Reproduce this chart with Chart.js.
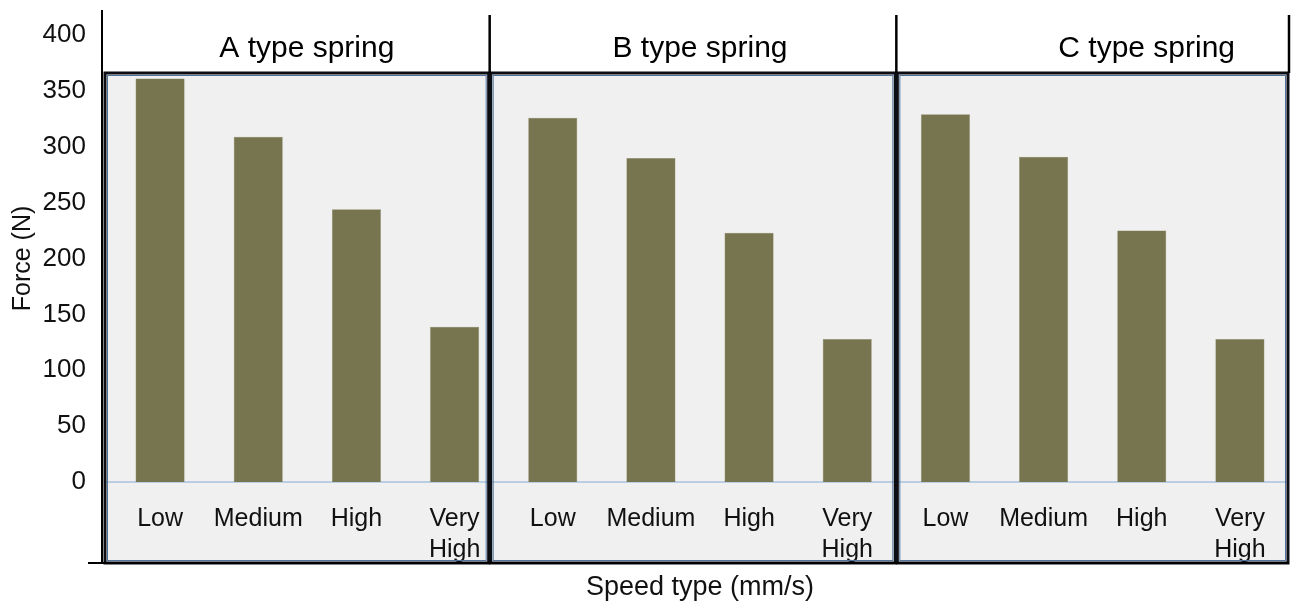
<!DOCTYPE html>
<html>
<head>
<meta charset="utf-8">
<title>Force by speed type</title>
<script src="https://cdn.jsdelivr.net/npm/chart.js@4.4.1/dist/chart.umd.min.js"></script>
<style>
  html, body { margin: 0; padding: 0; background: #fff; }
  #wrap { width: 1294px; height: 604px; position: relative; }
</style>
</head>
<body>
<div id="wrap"><canvas id="springChart"></canvas></div>
<script>
// Chart data
const springTypes = ["A type spring", "B type spring", "C type spring"];
const speedLevels = ["Low", "Medium", "High", ["Very", "High"]];
const forceA = [361, 309, 244, 139];
const forceB = [326, 290, 223, 128];
const forceC = [329, 291, 225, 128];
const yTicks = [0, 50, 100, 150, 200, 250, 300, 350, 400];

// one category per bar, grouped by spring type
const labels = [];
springTypes.forEach(function () {
  speedLevels.forEach(function (s) { labels.push(s); });
});
const values = forceA.concat(forceB, forceC);

const FONT = "'Liberation Sans', Arial, Helvetica, sans-serif";

// Draws the panel boxes, strip titles, zero line and outer axis lines
const panelPlugin = {
  id: "panels",
  panelEdges(chart, opts) {
    const x = chart.scales.x;
    const area = chart.chartArea;
    const n = speedLevels.length;
    const edges = [area.left - opts.leftPad];
    for (let p = 1; p < springTypes.length; p++) {
      const a = x.getPixelForValue(p * n - 1);
      const b = x.getPixelForValue(p * n);
      edges.push((a + b) / 2 + opts.dividerShift[p - 1]);
    }
    edges.push(area.right);
    return edges;
  },
  beforeDraw(chart, args, opts) {
    const ctx = chart.ctx;
    const edges = this.panelEdges(chart, opts);
    ctx.save();
    ctx.fillStyle = "#f0f0f0";
    ctx.fillRect(edges[0], opts.boxTop, edges[edges.length - 1] - edges[0], opts.boxBottom - opts.boxTop);
    ctx.restore();
  },
  beforeDatasetsDraw(chart, args, opts) {
    const ctx = chart.ctx;
    const edges = this.panelEdges(chart, opts);
    const y0 = chart.scales.y.getPixelForValue(0);
    ctx.save();
    ctx.strokeStyle = "#a9c3df";
    ctx.lineWidth = 1.5;
    ctx.beginPath();
    ctx.moveTo(edges[0], y0);
    ctx.lineTo(edges[edges.length - 1], y0);
    ctx.stroke();
    ctx.restore();
  },
  afterDraw(chart, args, opts) {
    const ctx = chart.ctx;
    const edges = this.panelEdges(chart, opts);
    const top = opts.boxTop, bottom = opts.boxBottom;
    ctx.save();

    // panel frames: thin blue inner line + thick black outline
    for (let p = 0; p < springTypes.length; p++) {
      const l = edges[p] + 1, r = edges[p + 1] - 1;
      ctx.strokeStyle = "#4f739c";
      ctx.lineWidth = 1;
      ctx.strokeRect(l + 2.5, top + 2.5, r - l - 5, bottom - top - 5);
      ctx.strokeStyle = "#0d0d14";
      ctx.lineWidth = 3;
      ctx.strokeRect(l, top, r - l, bottom - top);
    }

    // strip dividers above the panels
    ctx.strokeStyle = "#000";
    ctx.lineWidth = 2.5;
    for (let p = 1; p < edges.length; p++) {
      ctx.beginPath();
      ctx.moveTo(edges[p], opts.stripTop);
      ctx.lineTo(edges[p], top);
      ctx.stroke();
    }

    // y axis line and bottom axis line
    ctx.lineWidth = 2;
    ctx.beginPath();
    ctx.moveTo(edges[0] - 2, opts.axisTop);
    ctx.lineTo(edges[0] - 2, bottom);
    ctx.moveTo(opts.axisLeft, bottom);
    ctx.lineTo(edges[edges.length - 1], bottom);
    ctx.stroke();

    // strip titles
    ctx.fillStyle = "#000";
    ctx.font = "30px " + FONT;
    ctx.textAlign = "center";
    ctx.textBaseline = "middle";
    springTypes.forEach(function (t, p) {
      const cx = (edges[p] + edges[p + 1]) / 2 + opts.titleShift[p];
      ctx.fillText(t, cx, opts.titleY);
    });
    ctx.restore();
  }
};

new Chart(document.getElementById("springChart"), {
  type: "bar",
  data: {
    labels: labels,
    datasets: [
      {
        label: "Force (N)",
        data: values,
        backgroundColor: "#77754f",
        borderColor: "#8a8966",
        borderWidth: 0.5,
        categoryPercentage: 1,
        barPercentage: 0.5,
      },
    ],
  },
  options: {
    responsive: true,
    maintainAspectRatio: false,
    animation: false,
    layout: { padding: { left: 0, right: 5, top: 35, bottom: 0 } },
    plugins: {
      legend: { display: false },
      tooltip: { enabled: false },
      title: { display: false },
      panels: {
        leftPad: 7,
        dividerShift: [-14, 0],
        boxTop: 73,
        boxBottom: 563,
        stripTop: 15,
        axisTop: 10,
        axisLeft: 88,
        titleY: 49,
        titleShift: [10, 7, 54],
      },
    },
    scales: {
      x: {
        grid: { display: false, drawTicks: false },
        border: { display: false },
        ticks: {
          autoSkip: false,
          maxRotation: 0,
          minRotation: 0,
          padding: 22,
          color: "#111",
          font: { family: FONT, size: 25, lineHeight: 1.22 },
        },
        title: {
          display: true,
          text: "Speed type (mm/s)",
          color: "#111",
          font: { family: FONT, size: 27 },
          padding: { top: 0, bottom: 0 },
        },
        afterFit: function (scale) { scale.height = 122; },
      },
      y: {
        min: 0,
        max: 400,
        afterBuildTicks: function (scale) {
          scale.ticks = yTicks.map(function (v) { return { value: v }; });
        },
        grid: { display: false, drawTicks: false },
        border: { display: false },
        ticks: {
          padding: 25,
          color: "#111",
          font: { family: FONT, size: 26 },
        },
        title: {
          display: true,
          text: "Force (N)",
          color: "#111",
          font: { family: FONT, size: 25 },
          padding: { top: 8, bottom: 0 },
        },
        afterFit: function (scale) {
          scale.width = 111;
          scale.paddingTop = 0;
          scale.paddingBottom = 0;
        },
      },
    },
  },
  plugins: [panelPlugin],
});
</script>
</body>
</html>
